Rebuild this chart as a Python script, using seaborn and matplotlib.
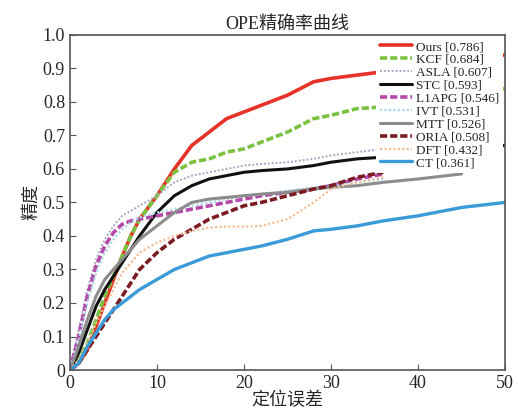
import numpy as np
import pandas as pd
import matplotlib
matplotlib.use("Agg")
import matplotlib.pyplot as plt
import seaborn as sns

# location error thresholds (x axis)
err = [0, 1, 2, 3, 4, 5, 6, 7, 8, 10, 12, 14, 16, 18, 20, 22, 25, 28, 30, 33, 36, 40, 45, 50]
nan = np.nan

ours  = [0, 0.02, 0.06, 0.13, 0.20, 0.27, 0.34, 0.40, 0.45, 0.52, 0.60, 0.67, 0.71, 0.75, 0.77, 0.79, 0.82, 0.86, 0.87, 0.88, 0.89, 0.91, 0.93, 0.94]
kcf   = [0, 0.03, 0.08, 0.15, 0.22, 0.28, 0.34, 0.40, 0.45, 0.52, 0.59, 0.62, 0.63, 0.65, 0.66, 0.68, 0.71, 0.75, 0.76, 0.78, 0.785, 0.80, 0.82, 0.84]
asla  = [0, 0.12, 0.24, 0.33, 0.39, 0.43, 0.46, 0.475, 0.49, 0.52, 0.56, 0.58, 0.59, 0.60, 0.61, 0.615, 0.62, 0.63, 0.64, 0.65, 0.66, 0.665, 0.67, 0.68]
stc   = [0, 0.05, 0.12, 0.19, 0.24, 0.28, 0.32, 0.36, 0.40, 0.47, 0.52, 0.55, 0.57, 0.58, 0.59, 0.595, 0.60, 0.61, 0.62, 0.63, 0.635, 0.645, 0.66, 0.67]
l1apg = [0, 0.10, 0.22, 0.31, 0.37, 0.41, 0.435, 0.445, 0.45, 0.46, 0.47, 0.48, 0.49, 0.50, 0.51, 0.52, 0.53, 0.54, 0.55, 0.57, 0.585, nan, nan, nan]
ivt   = [0, 0.09, 0.20, 0.29, 0.35, 0.39, 0.42, 0.44, 0.455, 0.47, 0.48, 0.49, 0.50, 0.51, 0.52, 0.525, 0.535, 0.545, 0.55, 0.56, 0.57, nan, nan, nan]
mtt   = [0, 0.07, 0.15, 0.22, 0.27, 0.30, 0.33, 0.36, 0.39, 0.43, 0.47, 0.50, 0.51, 0.515, 0.52, 0.525, 0.53, 0.54, 0.545, 0.55, 0.56, 0.57, 0.585, nan]
oria  = [0, 0.02, 0.06, 0.10, 0.14, 0.18, 0.22, 0.26, 0.30, 0.35, 0.39, 0.42, 0.45, 0.47, 0.49, 0.50, 0.52, 0.54, 0.55, 0.575, 0.59, nan, nan, nan]
dft   = [0, 0.03, 0.08, 0.14, 0.19, 0.24, 0.29, 0.32, 0.35, 0.38, 0.40, 0.415, 0.425, 0.428, 0.428, 0.43, 0.45, 0.50, 0.54, 0.56, 0.575, nan, nan, nan]
ct    = [0, 0.02, 0.07, 0.11, 0.15, 0.18, 0.20, 0.22, 0.24, 0.27, 0.30, 0.32, 0.34, 0.35, 0.36, 0.37, 0.39, 0.415, 0.42, 0.43, 0.445, 0.46, 0.485, 0.50]

names  = ["Ours [0.786]", "KCF [0.684]", "ASLA [0.607]", "STC [0.593]", "L1APG [0.546]",
          "IVT [0.531]", "MTT [0.526]", "ORIA [0.508]", "DFT [0.432]", "CT [0.361]"]
series = [ours, kcf, asla, stc, l1apg, ivt, mtt, oria, dft, ct]
colors = ["#e63228", "#7cc242", "#a9a6c4", "#111111", "#b54aa9",
          "#a9d9e6", "#8c8c8c", "#7b1c22", "#f2bd96", "#3a9bd8"]
styles = [(None, 2.6), ((2, 0.8), 2.6), ((1, 1), 1.4), (None, 2.2), ((2, 0.8), 2.6),
          ((1, 1), 1.6), (None, 2.2), ((2, 0.8), 2.6), ((1, 1), 1.6), (None, 2.4)]

rows = []
for name, vals in zip(names, series):
    for x, y in zip(err, vals):
        if not np.isnan(y):
            rows.append({"err": x, "prec": y, "method": name})
df = pd.DataFrame(rows)

sns.set_style("ticks")
plt.rcParams['font.family'] = ['Liberation Serif', 'Noto Sans CJK SC']

fig = plt.figure(figsize=(5.18, 4.2), dpi=100)
ax = fig.add_axes([0.135, 0.119, 0.84, 0.798])

for name, c, (dash, lw) in zip(names, colors, styles):
    sub = df[df.method == name]
    sns.lineplot(data=sub, x="err", y="prec", ax=ax, color=c, lw=lw, label=name,
                 estimator=None, sort=False)
    line = ax.get_lines()[-1]
    if dash is not None:
        line.set_dashes(dash)

ax.set_xlim(0, 50)
ax.set_ylim(0, 1.0)
ax.set_xticks([0, 10, 20, 30, 40, 50])
ax.set_yticks(np.arange(0, 1.01, 0.1))
ax.set_yticklabels(["0"] + ["%.1f" % v for v in np.arange(0.1, 1.01, 0.1)])
ax.tick_params(direction="in", labelsize=13, length=4, color="#555555")
for s in ax.spines.values():
    s.set_visible(True)
    s.set_color("#555555")
    s.set_linewidth(1.2)

ax.set_title("OPE精确率曲线", fontsize=13, pad=4)
ax.set_xlabel("定位误差", fontsize=13, labelpad=0)
ax.set_ylabel("精度", fontsize=13, labelpad=2)

leg = ax.legend(loc="upper right", bbox_to_anchor=(1.0, 1.0), fontsize=9.5,
                frameon=True, facecolor="white", edgecolor="none", framealpha=1,
                handlelength=2.4, labelspacing=0.05, handletextpad=0.3,
                borderpad=0.3, borderaxespad=0.15)
leg.set_zorder(5)

fig.savefig("out.png", dpi=100)
